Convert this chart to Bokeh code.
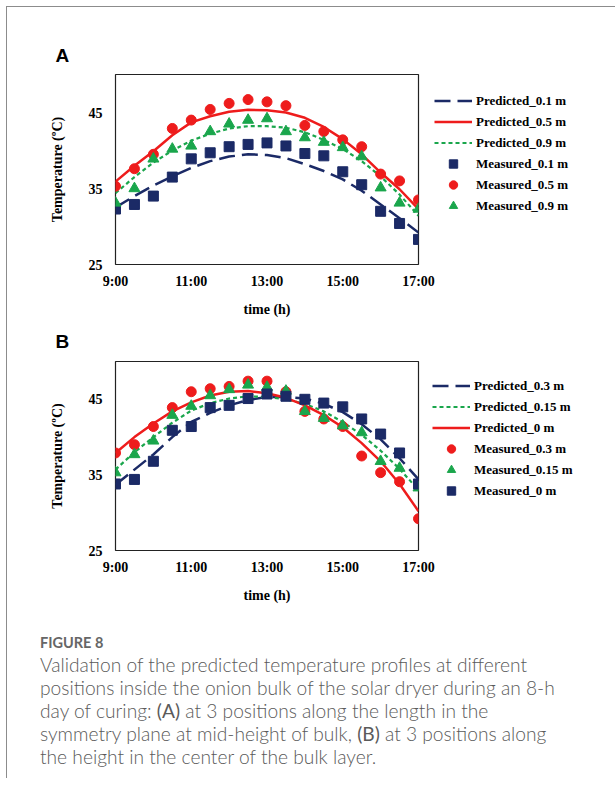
from bokeh.plotting import figure
from bokeh.models import Legend, LegendItem, FixedTicker, Range1d, Div
from bokeh.layouts import column
from bokeh.embed import file_html
from bokeh.resources import INLINE

# ---------------- data ----------------
hours = [9.0, 9.5, 10.0, 10.5, 11.0, 11.5, 12.0, 12.5, 13.0,
         13.5, 14.0, 14.5, 15.0, 15.5, 16.0, 16.5, 17.0]
tick_hours = [9, 11, 13, 15, 17]
tick_labels = ["9:00", "11:00", "13:00", "15:00", "17:00"]
temp_ticks = [25, 35, 45]

# Panel A (positions along the length)
a_pred_01 = [32.5, 34.0, 35.4, 36.6, 37.7, 38.6, 39.2, 39.5, 39.4,
             39.0, 38.2, 37.3, 36.2, 34.7, 32.9, 31.1, 29.2]
a_pred_05 = [35.9, 38.0, 39.9, 42.0, 43.7, 44.5, 45.1, 45.35, 45.3,
             45.0, 44.3, 43.1, 41.5, 39.5, 37.1, 34.9, 32.3]
a_pred_09 = [34.4, 36.5, 38.4, 40.0, 41.3, 42.2, 42.9, 43.2, 43.2,
             43.0, 42.4, 41.4, 40.2, 38.6, 36.6, 34.2, 31.4]
a_meas_01 = [32.3, 32.9, 34.0, 36.5, 38.9, 39.7, 40.5, 40.8, 41.0,
             40.6, 39.6, 39.3, 37.2, 35.5, 32.0, 30.4, 28.3]
a_meas_05 = [35.3, 37.6, 39.5, 42.9, 44.0, 45.4, 46.2, 46.7, 46.4,
             45.9, 43.3, 42.5, 41.4, 40.5, 36.9, 36.0, 33.5]
a_meas_09 = [33.1, 35.0, 38.9, 40.2, 40.6, 42.5, 43.5, 44.0, 44.2,
             42.5, 41.7, 41.1, 40.4, 39.2, 35.1, 33.1, 32.3]

# Panel B (positions along the height)
b_pred_03 = [33.7, 35.7, 37.7, 40.0, 42.0, 43.2, 44.2, 44.9, 45.3,
             45.3, 45.1, 44.4, 43.3, 41.7, 39.7, 37.2, 34.4]
b_pred_015 = [35.7, 38.0, 40.0, 41.9, 43.5, 44.5, 45.1, 45.4, 45.3,
              45.0, 44.4, 43.4, 42.0, 40.3, 38.2, 35.8, 33.0]
b_pred_0 = [37.9, 40.0, 41.8, 43.4, 44.6, 45.5, 46.0, 46.1, 45.8,
            45.2, 44.2, 42.9, 41.3, 39.2, 36.8, 33.8, 30.2]
b_meas_03 = [37.9, 39.0, 41.4, 43.9, 46.0, 46.4, 46.7, 47.4, 47.4,
             46.0, 43.4, 42.4, 41.4, 37.5, 35.3, 34.1, 29.2]
b_meas_015 = [35.3, 37.7, 39.5, 42.9, 44.1, 45.5, 46.3, 46.9, 46.6,
              46.1, 43.4, 42.5, 41.5, 40.6, 36.8, 35.9, 33.3]
b_meas_0 = [33.8, 34.4, 36.8, 40.9, 41.4, 43.9, 44.2, 45.1, 45.7,
            45.4, 45.0, 44.5, 44.0, 42.4, 40.4, 37.9, 33.8]

NAVY = "#1b2a66"
RED = "#ee1c1c"
GREEN = "#1aa64c"

SERIF = "Liberation Serif"


def make_panel(frame_h, border_top, border_bottom, letter, letter_standoff,
               lines, markers, legend_order, legend_margin):
    p = figure(frame_width=303, frame_height=frame_h, output_backend="svg",
               toolbar_location=None, tools="",
               x_range=Range1d(9, 17), y_range=Range1d(25, 50),
               min_border_left=108, min_border_right=0,
               min_border_top=border_top, min_border_bottom=border_bottom,
               background_fill_color="white", border_fill_color="white")
    p.grid.visible = False
    p.outline_line_color = "#222222"
    p.outline_line_width = 1.2
    for ax in (p.xaxis[0], p.yaxis[0]):
        ax.axis_line_color = None
        ax.major_tick_line_color = None
        ax.minor_tick_line_color = None
        ax.major_tick_out = 0
        ax.major_tick_in = 0
        ax.minor_tick_out = 0
        ax.minor_tick_in = 0
        ax.major_label_text_font = SERIF
        ax.major_label_text_font_style = "bold"
        ax.major_label_text_font_size = "14px"
        ax.major_label_text_color = "black"
        ax.axis_label_text_font = SERIF
        ax.axis_label_text_font_style = "bold"
        ax.axis_label_text_font_size = "14px"
        ax.axis_label_text_color = "black"
    p.xaxis.ticker = FixedTicker(ticks=tick_hours)
    p.xaxis.major_label_overrides = {h: l for h, l in zip(tick_hours, tick_labels)}
    p.xaxis.major_label_standoff = 9
    p.xaxis.axis_label = "time (h)"
    p.xaxis.axis_label_standoff = 10
    p.yaxis.ticker = FixedTicker(ticks=temp_ticks)
    p.yaxis.major_label_standoff = 13
    p.yaxis.axis_label = "Temperature (ºC)"
    p.yaxis.axis_label_standoff = 21

    p.title.text = letter
    p.title.align = "left"
    p.title.offset = -60
    p.title.standoff = letter_standoff
    p.title.text_font = "Liberation Sans"
    p.title.text_font_style = "bold"
    p.title.text_font_size = "19px"
    p.title.text_color = "black"

    rend = {}
    for name, ys, color, dash, w in lines:
        rend[name] = p.line(hours, ys, line_color=color, line_dash=dash,
                            line_width=w)
    for name, ys, color, marker, size in markers:
        rend[name] = p.scatter(hours, ys, marker=marker, size=size,
                               fill_color=color, line_color=color)

    items = [LegendItem(label=n, renderers=[rend[n]]) for n in legend_order]
    leg = Legend(items=items, location="top_left", orientation="vertical",
                 glyph_width=38, glyph_height=21, label_height=21,
                 spacing=0, padding=0, margin=legend_margin, label_standoff=4,
                 label_text_font=SERIF, label_text_font_style="bold",
                 label_text_font_size="13px", label_text_color="black",
                 border_line_color=None, background_fill_alpha=0)
    p.add_layout(leg, "right")
    return p


pa = make_panel(
    190, 67, 55, "A", 18,
    lines=[("Predicted_0.1 m", a_pred_01, NAVY, "16 7", 2.5),
           ("Predicted_0.5 m", a_pred_05, RED, "solid", 2.5),
           ("Predicted_0.9 m", a_pred_09, GREEN, "4 3", 2.2)],
    markers=[("Measured_0.1 m", a_meas_01, NAVY, "square", 10),
             ("Measured_0.5 m", a_meas_05, RED, "circle", 10),
             ("Measured_0.9 m", a_meas_09, GREEN, "triangle", 11)],
    legend_order=["Predicted_0.1 m", "Predicted_0.5 m", "Predicted_0.9 m",
                  "Measured_0.1 m", "Measured_0.5 m", "Measured_0.9 m"],
    legend_margin=16)

pb = make_panel(
    189, 20, 58, "B", 19,
    lines=[("Predicted_0.3 m", b_pred_03, NAVY, "16 7", 2.5),
           ("Predicted_0.15 m", b_pred_015, GREEN, "4 3", 2.2),
           ("Predicted_0 m", b_pred_0, RED, "solid", 2.5)],
    markers=[("Measured_0.3 m", b_meas_03, RED, "circle", 10),
             ("Measured_0.15 m", b_meas_015, GREEN, "triangle", 11),
             ("Measured_0 m", b_meas_0, NAVY, "square", 10)],
    legend_order=["Predicted_0.3 m", "Predicted_0.15 m", "Predicted_0 m",
                  "Measured_0.3 m", "Measured_0.15 m", "Measured_0 m"],
    legend_margin=14)

caption_html = (
    '<div style="font-family:Lato,sans-serif;color:#666;font-size:14.5px;'
    'font-weight:bold;line-height:20px;margin:0;">FIGURE 8</div>'
    '<div style="font-family:Lato,sans-serif;color:#5a5a5a;font-size:19.2px;'
    'font-weight:300;line-height:23px;margin-top:0px;">'
    'Validation of the predicted temperature profiles at different<br>'
    'positions inside the onion bulk of the solar dryer during an 8-h<br>'
    'day of curing: <b>(A)</b> at 3 positions along the length in the<br>'
    'symmetry plane at mid-height of bulk, <b>(B)</b> at 3 positions along<br>'
    'the height in the center of the bulk layer.</div>'
)
cap = Div(text=caption_html, width=571, height=160,
          styles={"padding-left": "28px", "padding-top": "20px"})

layout = column(pa, pb, cap, spacing=0,
                styles={"border-left": "1.5px solid #8c8c8c",
                        "border-top": "1.5px solid #8c8c8c",
                        "margin-left": "6px", "margin-top": "6px"})

open("out.html", "w").write(file_html(layout, INLINE))
